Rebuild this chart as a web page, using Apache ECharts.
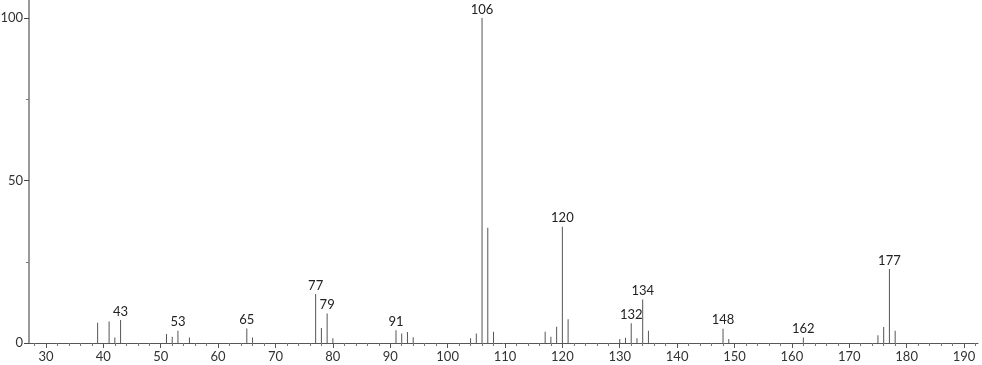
<!DOCTYPE html>
<html>
<head>
<meta charset="utf-8">
<script src="https://cdn.jsdelivr.net/npm/echarts@6/dist/echarts.min.js"></script>
<style>html,body{margin:0;padding:0;background:#fff}#c{width:982px;height:365px}</style>
</head>
<body>
<div id="c"></div>
<script>
var mz = [39,41,42,43,51,52,53,55,65,66,77,78,79,80,91,92,93,94,104,105,106,107,108,117,118,119,120,121,130,131,132,133,134,135,148,149,162,175,176,177,178];
var intensity = [6.2,6.6,1.7,7.1,2.8,1.9,3.8,1.7,4.5,1.7,15.1,4.6,9.1,1.5,3.9,2.9,3.4,1.8,1.5,2.9,100,35.5,3.5,3.5,1.9,5.0,35.8,7.3,1.2,1.6,6.1,1.5,13.4,3.8,4.4,1.2,1.7,2.4,4.9,22.8,3.8];
var labeledPeaks = [43,53,65,77,79,91,106,120,132,134,148,162,177];
var xMajorTicks = [30,40,50,60,70,80,90,100,110,120,130,140,150,160,170,180,190];
var xMinorTicks = [28,32,34,36,38,42,44,46,48,52,54,56,58,62,64,66,68,72,74,76,78,82,84,86,88,92,94,96,98,102,104,106,108,112,114,116,118,122,124,126,128,132,134,136,138,142,144,146,148,152,154,156,158,162,164,166,168,172,174,176,178,182,184,186,188,192];
var yMajorTicks = [0,50,100];
var yMinorTicks = [25,75];

var font = 'Lato, "DejaVu Sans", sans-serif';
var data = mz.map(function(m, i){
  var item = {value: [m, intensity[i]]};
  if (labeledPeaks.indexOf(m) >= 0) {
    item.label = {show: true, position: 'top', distance: 2, formatter: String(m),
      color: '#222', fontSize: 13, fontFamily: font};
  }
  return item;
});

var chart = echarts.init(document.getElementById('c'), null, {renderer: 'canvas'});
var xMin = 27.04, xMax = 192.44, yMax = 105.54;
chart.setOption({
  animation: false,
  backgroundColor: '#fff',
  grid: {left: 29, right: 4, top: 0, bottom: 22, containLabel: false, outerBoundsMode: 'none'},
  xAxis: [{
    type: 'value', min: xMin, max: xMax,
    axisLine: {show: true, lineStyle: {color: '#555', width: 1}},
    axisTick: {show: true, customValues: xMajorTicks, length: 5, lineStyle: {color: '#555'}},
    axisLabel: {customValues: xMajorTicks, color: '#333', fontSize: 13, fontFamily: font, margin: 7},
    splitLine: {show: false}
  },{
    type: 'value', min: xMin, max: xMax, position: 'bottom',
    axisLine: {show: false},
    axisTick: {show: true, customValues: xMinorTicks, length: 3, lineStyle: {color: '#777'}},
    axisLabel: {show: false},
    splitLine: {show: false}
  }],
  yAxis: [{
    type: 'value', min: 0, max: yMax,
    axisLine: {show: true, lineStyle: {color: '#9a9a9a', width: 2}},
    axisTick: {show: true, customValues: yMajorTicks, length: 5, lineStyle: {color: '#444'}},
    axisLabel: {customValues: yMajorTicks, color: '#333', fontSize: 13, fontFamily: font, margin: 6},
    splitLine: {show: false}
  },{
    type: 'value', min: 0, max: yMax, position: 'left',
    axisLine: {show: false},
    axisTick: {show: true, customValues: yMinorTicks, length: 3, lineStyle: {color: '#777'}},
    axisLabel: {show: false},
    splitLine: {show: false}
  }],
  series: [{
    type: 'bar',
    xAxisIndex: 0, yAxisIndex: 0,
    barWidth: 1,
    itemStyle: {color: '#555'},
    data: data
  }]
});
</script>
</body>
</html>
